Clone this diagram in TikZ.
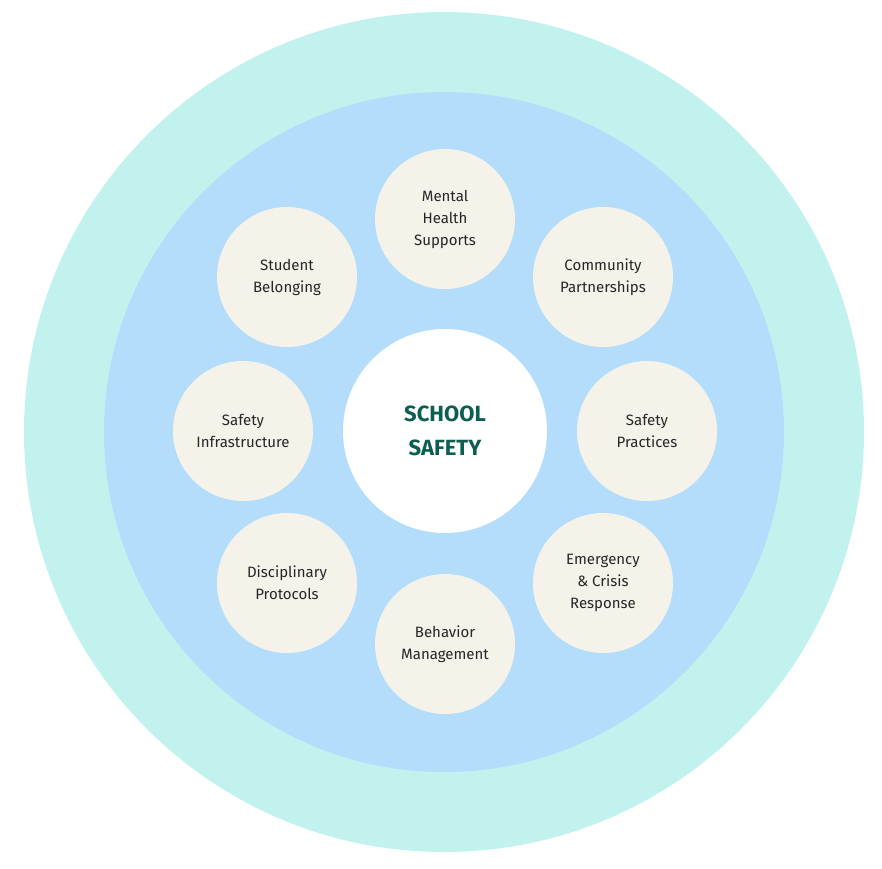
\documentclass[tikz,border=0pt]{standalone}
\usepackage{fontspec}
\setmainfont{Fira Sans}
\definecolor{ringout}{HTML}{C2F2EE}
\definecolor{ringin}{HTML}{B3DDFA}
\definecolor{petal}{HTML}{F5F2EA}
\definecolor{titlegreen}{HTML}{0B5E50}
\tikzset{
  petalnode/.style={circle, fill=petal, minimum size=140pt, inner sep=0pt, align=center, font=\fontsize{15}{22}\selectfont, text=black!85},
  hubnode/.style={circle, fill=white, minimum size=204pt, inner sep=0pt, align=center, font=\fontsize{22}{34}\selectfont\bfseries, text=titlegreen}
}
\begin{document}
\begin{tikzpicture}[x=1pt,y=-1pt]
\useasboundingbox (0,0) rectangle (882,868);
\fill [ringout] (444,432) circle (420);
\fill [ringin] (444,432) circle (340);
\node [hubnode] (hub) at (445,431) {SCHOOL\\SAFETY};
\node [petalnode] (mental) at (445,219) {Mental\\Health\\Supports};
\node [petalnode] (community) at (603,277) {Community\\Partnerships};
\node [petalnode] (practices) at (647,431) {Safety\\Practices};
\node [petalnode] (emergency) at (603,583) {Emergency\\\&\ Crisis\\Response};
\node [petalnode] (behavior) at (445,644) {Behavior\\Management};
\node [petalnode] (discipline) at (287,583) {Disciplinary\\Protocols};
\node [petalnode] (infra) at (243,431) {Safety\\Infrastructure};
\node [petalnode] (belonging) at (287,277) {Student\\Belonging};
\end{tikzpicture}
\end{document}
